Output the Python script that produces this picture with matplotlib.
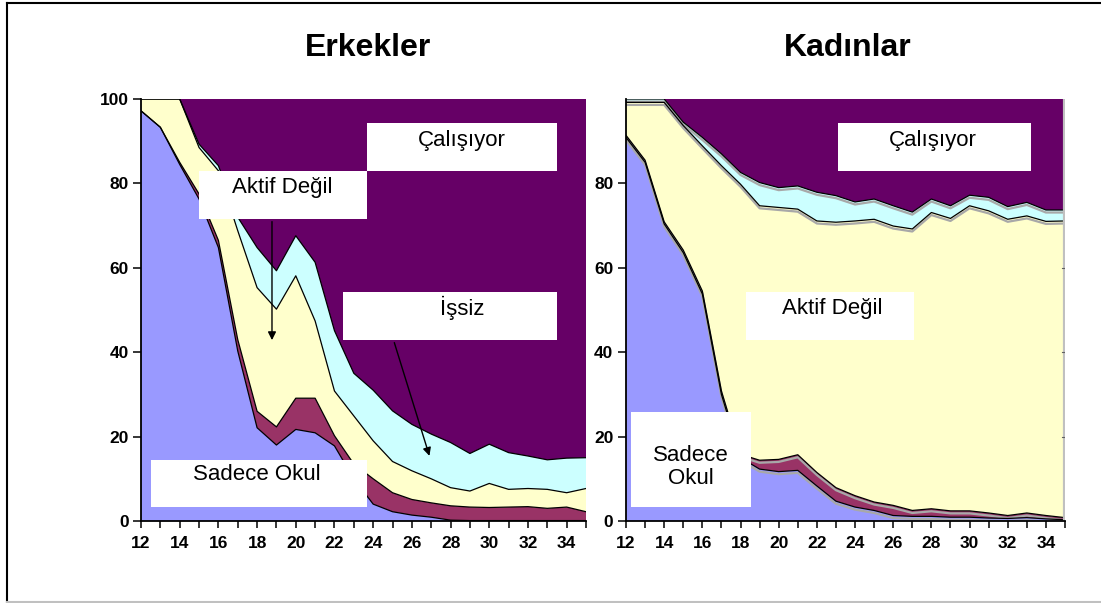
import numpy as np
import matplotlib
matplotlib.use('Agg')
import matplotlib.pyplot as plt
from matplotlib.lines import Line2D
from matplotlib.patches import Rectangle

plt.rcParams['font.family'] = ['Liberation Sans', 'DejaVu Sans']

ages = list(range(12, 36))
labels = ['Sadece Okul', 'Okul ve Çalışıyor', 'Aktif Değil', 'İşsiz', 'Çalışıyor']
colors = ['#9999FF', '#993366', '#FFFFCC', '#CCFFFF', '#660066']

# Erkekler (shares, %)
m_okul = [97.2, 93.3, 84.5, 76.3, 64.8, 40.3, 22.1, 18.0, 21.7, 20.9, 17.8, 10.0,
          4.0, 2.2, 1.4, 0.9, 0.2, 0.1, 0.1, 0.1, 0.1, 0.1, 0.1, 0.1]
m_okul_is = [0.0, 0.0, 0.5, 1.2, 1.7, 2.7, 3.9, 4.3, 7.4, 8.2, 2.4, 3.5,
             6.0, 4.5, 3.7, 3.4, 3.4, 3.2, 3.1, 3.2, 3.3, 2.9, 3.2, 2.1]
m_aktif_degil = [2.8, 6.7, 15.0, 11.0, 16.5, 25.8, 29.3, 27.9, 29.0, 18.3, 10.6, 11.4,
                 9.0, 7.4, 6.8, 5.7, 4.3, 3.8, 5.7, 4.2, 4.3, 4.5, 3.4, 5.5]
m_issiz = [0.0, 0.0, 0.0, 0.8, 1.2, 3.2, 9.5, 9.1, 9.5, 13.9, 14.3, 10.1,
           12.0, 12.0, 11.0, 10.6, 10.7, 8.9, 9.3, 8.7, 7.7, 7.0, 8.2, 7.3]
m_calisiyor = [0.0, 0.0, 0.0, 10.7, 15.8, 28.0, 35.2, 40.7, 32.4, 38.7, 54.9, 65.0,
               69.0, 73.9, 77.1, 79.4, 81.4, 84.0, 81.8, 83.8, 84.6, 85.5, 85.1, 85.0]

# Kadınlar (shares, %)
f_okul = [90.9, 85.0, 70.4, 63.6, 53.8, 30.0, 15.0, 12.3, 11.7, 12.0, 8.3, 4.7,
          3.3, 2.5, 1.3, 1.1, 1.1, 0.9, 0.9, 0.7, 0.6, 0.8, 0.5, 0.3]
f_okul_is = [0.5, 0.5, 0.5, 0.6, 0.7, 0.8, 0.8, 2.1, 2.9, 3.7, 3.2, 3.2,
             2.7, 2.0, 2.4, 1.4, 1.8, 1.5, 1.5, 1.2, 0.7, 1.1, 0.8, 0.5]
f_aktif_degil = [7.8, 13.7, 28.3, 29.5, 34.4, 53.4, 64.0, 60.3, 59.7, 58.2, 59.6, 62.9,
                 65.1, 67.0, 66.2, 66.7, 70.2, 69.3, 72.3, 71.6, 70.2, 70.4, 69.7, 70.3]
f_issiz = [0.8, 0.8, 0.8, 0.8, 2.0, 2.8, 2.8, 5.5, 4.7, 5.5, 6.8, 6.3,
           4.5, 4.8, 4.8, 4.0, 3.2, 3.0, 2.5, 3.2, 3.0, 3.2, 2.7, 2.6]
f_calisiyor = [0.0, 0.0, 0.0, 5.5, 9.1, 13.0, 17.4, 19.8, 21.0, 20.6, 22.1, 22.9,
               24.4, 23.7, 25.3, 26.8, 23.7, 25.3, 22.8, 23.3, 25.5, 24.5, 26.3, 26.3]

W, H = 1101, 603
fig = plt.figure(figsize=(W / 100, H / 100), dpi=100)


def px_axes(x0, x1, y0, y1):
    return fig.add_axes([x0 / W, 1 - y1 / H, (x1 - x0) / W, (y1 - y0) / H])


def draw_panel(ax, series, yticks, shadow=False):
    ax.stackplot(ages, *series, colors=colors, linewidth=0)
    tops = np.cumsum(np.array(series), axis=0)
    for top in tops[:-1]:
        if shadow:
            ax.plot(ages, top - 0.6, color='#A8A8A8', lw=1.6, zorder=2)
        ax.plot(ages, top, color='black', lw=0.9, zorder=3)
    ax.set_xlim(12, 35)
    ax.set_ylim(0, 100)
    ax.set_xticks(ages)
    ax.set_xticklabels([str(a) if a % 2 == 0 else '' for a in ages])
    ax.set_yticks(yticks)
    ax.set_yticklabels([str(v) for v in yticks])
    for s in ['top', 'right']:
        ax.spines[s].set_visible(False)
    for s in ['left', 'bottom']:
        ax.spines[s].set_linewidth(1.3)
        ax.spines[s].set_zorder(5)
    ax.tick_params(axis='x', direction='out', length=5, width=1.1, pad=6, labelsize=12.5)
    ax.tick_params(axis='y', direction='out', length=6, width=1.1, pad=3, labelsize=12.5)
    for t in ax.get_xticklabels() + ax.get_yticklabels():
        t.set_fontweight('bold')


def box(ax, x0, x1, y0, y1, text, tx, ty):
    ax.add_patch(Rectangle((x0, y0), x1 - x0, y1 - y0, facecolor='white',
                           edgecolor='none', zorder=6))
    ax.text(tx, ty, text, ha='center', va='center', fontsize=16, zorder=7,
            linespacing=1.15)


# Erkekler
ax1 = px_axes(141, 586, 99, 521)
draw_panel(ax1, [m_okul, m_okul_is, m_aktif_degil, m_issiz, m_calisiyor],
           [0, 20, 40, 60, 80, 100])
box(ax1, 23.68, 33.5, 82.9, 94.3, 'Çalışıyor', 28.6, 90.2)
box(ax1, 15.0, 23.68, 71.6, 82.9, 'Aktif Değil', 19.3, 79.0)
box(ax1, 22.44, 33.5, 42.9, 54.3, 'İşsiz', 28.6, 50.4)
box(ax1, 12.5, 23.68, 3.2, 14.4, 'Sadece Okul', 18.0, 11.0)
ax1.annotate('', xy=(18.77, 42.2), xytext=(18.77, 71.6),
             arrowprops=dict(arrowstyle='-|>', color='black', lw=1, mutation_scale=12),
             zorder=8)
ax1.annotate('', xy=(26.95, 14.8), xytext=(25.05, 42.9),
             arrowprops=dict(arrowstyle='-|>', color='black', lw=1, mutation_scale=12),
             zorder=8)

# Kadınlar
ax2 = px_axes(626, 1065, 99, 521)
draw_panel(ax2, [f_okul, f_okul_is, f_aktif_degil, f_issiz, f_calisiyor],
           [0, 20, 40, 60, 80], shadow=True)
ax2.axvline(35, color='#C0C0C0', lw=3, zorder=4)
for yv in [20, 40, 60]:
    ax2.plot([34.85, 35], [yv, yv], color='#606060', lw=0.8, zorder=5)
box(ax2, 23.1, 33.2, 82.9, 94.3, 'Çalışıyor', 28.1, 90.2)
box(ax2, 18.3, 27.1, 42.9, 54.3, 'Aktif Değil', 22.8, 50.4)
box(ax2, 12.26, 18.55, 3.2, 25.8, 'Sadece\nOkul', 15.4, 12.8)

fig.text(368 / W, 1 - 48 / H, 'Erkekler', ha='center', va='center',
         fontsize=23, fontweight='bold')
fig.text(848 / W, 1 - 48 / H, 'Kadınlar', ha='center', va='center',
         fontsize=23, fontweight='bold')

# outer frame
fig.add_artist(Line2D([7 / W, 7 / W], [1 - 3 / H, 1 - 602 / H], color='black', lw=1.5))
fig.add_artist(Line2D([7 / W, 1100 / W], [1 - 3 / H, 1 - 3 / H], color='black', lw=1.5))
fig.add_artist(Line2D([7 / W, 1100 / W], [1 - 601.5 / H, 1 - 601.5 / H], color='#C0C0C0', lw=1.5))

fig.savefig('out.png', dpi=100)
